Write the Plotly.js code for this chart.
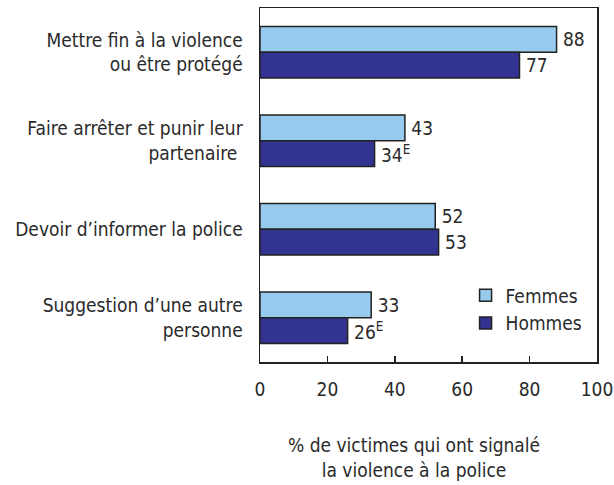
<!DOCTYPE html>
<html>
<head>
<meta charset="utf-8">
<script src="https://cdn.plot.ly/plotly-3.0.1.min.js"></script>
<style>html,body{margin:0;padding:0;background:#fff;}</style>
</head>
<body>
<div id="chart" style="width:614px;height:485px;"></div>
<script>
const categories = [
  "Mettre fin à la violence<br>ou être protégé",
  "Faire arrêter et punir leur<br>partenaire ",
  "Devoir d’informer la police",
  "Suggestion d’une autre<br>personne"
];
const femmes = [88, 43, 52, 33];
const hommes = [77, 34, 53, 26];
const femmesLabels = ["88", "43", "52", "33"];
const hommesLabels = ["77", "34<sup>E</sup>", "53", "26<sup>E</sup>"];
const xTicks = [0, 20, 40, 60, 80, 100];

const FONT = "'Liberation Sans Narrow', 'DejaVu Sans Condensed', 'Liberation Sans', sans-serif";
const TXT = "#2a2a2a";

const traces = [
  {
    type: "bar", orientation: "h", name: "Femmes",
    y: categories, x: femmes,
    text: femmesLabels.map(t => "\u2009" + t), textposition: "outside",
    textfont: {family: FONT, size: 19, color: TXT},
    cliponaxis: false,
    marker: {color: "#97CBEE", line: {color: "#222222", width: 1.5}},
    hoverinfo: "skip"
  },
  {
    type: "bar", orientation: "h", name: "Hommes",
    y: categories, x: hommes,
    text: hommesLabels.map(t => "\u2009" + t), textposition: "outside",
    textfont: {family: FONT, size: 19, color: TXT},
    cliponaxis: false,
    marker: {color: "#333391", line: {color: "#222222", width: 1.5}},
    hoverinfo: "skip"
  }
];

const layout = {
  width: 614, height: 485,
  margin: {l: 260, r: 17, t: 8, b: 123},
  paper_bgcolor: "#fff", plot_bgcolor: "#fff",
  font: {family: FONT, size: 19, color: TXT},
  barmode: "group", bargap: 0.42, bargroupgap: 0,
  showlegend: true,
  legend: {
    x: 0.61, y: 0.242, xanchor: "left", yanchor: "top",
    bgcolor: "rgba(0,0,0,0)", font: {family: FONT, size: 19, color: TXT},
    traceorder: "normal"
  },
  xaxis: {
    range: [0, 100], tickvals: xTicks, ticktext: xTicks.map(String),
    ticks: "inside", ticklen: 6, tickwidth: 1.5, tickcolor: "#222",
    showline: true, linecolor: "#222", linewidth: 1.5, mirror: true,
    showgrid: false, zeroline: false, ticklabelstandoff: 10,
    tickfont: {family: FONT, size: 19, color: TXT}
  },
  yaxis: {
    autorange: "reversed", type: "category",
    ticks: "", showline: true, linecolor: "#222", linewidth: 1.5, mirror: true,
    showgrid: false, zeroline: false, ticklabelstandoff: 12,
    tickfont: {family: FONT, size: 19, color: TXT}
  },
  annotations: [{
    xref: "paper", yref: "paper", x: (414 - 260) / 337, y: -0.197,
    xanchor: "center", yanchor: "top", showarrow: false,
    text: "% de victimes qui ont signalé<br>la violence à la police",
    font: {family: FONT, size: 19, color: TXT}
  }]
};

Plotly.newPlot("chart", traces, layout, {displayModeBar: false, staticPlot: true});
</script>
</body>
</html>
